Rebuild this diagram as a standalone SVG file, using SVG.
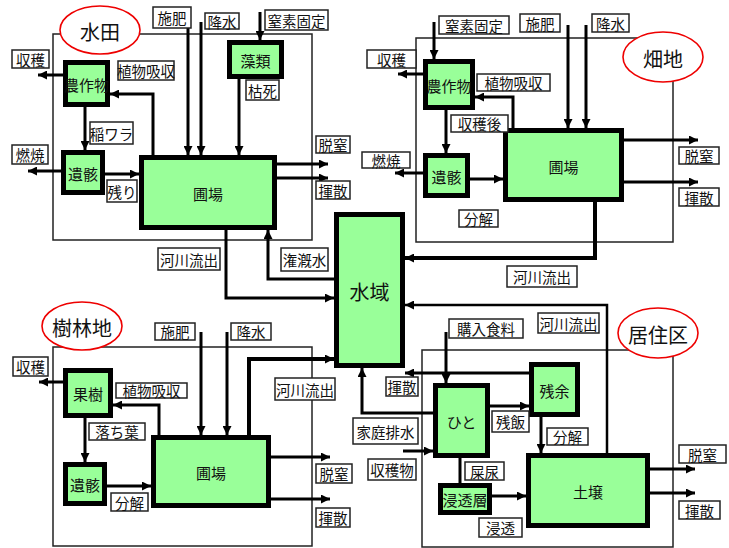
<svg xmlns="http://www.w3.org/2000/svg" width="729" height="548" viewBox="0 0 729 548">
<defs>
<marker id="ah" viewBox="0 0 10 10" refX="10" refY="5" markerWidth="9" markerHeight="9" markerUnits="userSpaceOnUse" orient="auto"><path d="M0,0 L10,5 L0,10 z" fill="#000"/></marker>
<style>
text{font-family:"Noto Sans CJK JP","Noto Sans",sans-serif;text-anchor:middle;dominant-baseline:central;fill:#111}
.area{fill:none;stroke:#222;stroke-width:1.5}
.oval{fill:#fff;stroke:#e00;stroke-width:1.6}
.ot{font-size:20px}
.nd rect{fill:#99ff99;stroke:#000;stroke-width:5}
.nd text{font-size:15px}
.lb rect{fill:#fff;stroke:#222;stroke-width:1.5}
.lb text{font-size:14.5px}
.cn path{fill:none;stroke:#000;stroke-width:3;marker-end:url(#ah)}
.cn path.na{marker-end:none}
.cn path.tk{stroke-width:4}
.cn path.tn{stroke-width:2.5}
</style>
</defs>
<rect width="729" height="548" fill="#fff"/>

<g id="areas">
<rect class="area" x="53" y="34" width="259" height="206"/>
<rect class="area" x="416" y="38" width="257" height="204"/>
<rect class="area" x="53" y="347" width="259" height="199"/>
<rect class="area" x="422" y="350" width="251" height="197"/>
</g>
<g id="area-labels">
<g id="paddy-title"><ellipse class="oval" cx="100" cy="30" rx="40" ry="24"/><text class="ot" x="100" y="31">水田</text></g>
<g id="field-title"><ellipse class="oval" cx="663" cy="57" rx="40" ry="25"/><text class="ot" x="663" y="58">畑地</text></g>
<g id="orchard-title"><ellipse class="oval" cx="82" cy="326" rx="40" ry="24"/><text class="ot" x="82" y="327">樹林地</text></g>
<g id="residential-title"><ellipse class="oval" cx="658" cy="333" rx="40" ry="25"/><text class="ot" x="658" y="334">居住区</text></g>
</g>

<g id="connectors" class="cn">
<!-- paddy -->
<path d="M188,26 V155"/>
<path d="M201,22 V155"/>
<path d="M260,12 V40"/>
<path d="M239,79 V155"/>
<path d="M153,155 V94 H110"/>
<path d="M63,75 H38"/>
<path d="M85,107 V150"/>
<path d="M61,171 H28"/>
<path d="M105,174 H139"/>
<path d="M277,164 H328"/>
<path d="M277,178 H328"/>
<path d="M226,230 V298 H334"/>
<path d="M334,279 H268 V230"/>
<!-- field -->
<path d="M434,22 V59"/>
<path d="M568,25 V128"/>
<path d="M586,25 V128"/>
<path d="M423,74 H398"/>
<path d="M513,128 V97 H475"/>
<path d="M446,110 V153"/>
<path d="M423,173 H395"/>
<path d="M470,179 H503"/>
<path d="M624,140 H698"/>
<path d="M624,182 H698"/>
<path class="tk" d="M595,202 V258 H405"/>
<!-- orchard -->
<path d="M201,332 V435"/>
<path d="M227,332 V435"/>
<path d="M63,382 H39"/>
<path d="M159,435 V405 H113"/>
<path d="M85,418 V462"/>
<path d="M107,486 H151"/>
<path d="M271,457 H330"/>
<path d="M271,499 H330"/>
<path class="tk" d="M249,435 V359 H334"/>
<!-- residential -->
<path d="M446,332 V383"/>
<path d="M529,373 H405"/>
<path d="M433,413 H362 V368"/>
<path d="M403,451 H433"/>
<path d="M490,406 H529"/>
<path d="M541,417 V453"/>
<path class="na" d="M460,458 V483"/>
<path d="M492,496 H526"/>
<path d="M650,469 H695"/>
<path d="M650,493 H695"/>
<path class="tn" d="M607,453 V305 H405"/>
</g>

<g id="n-paddy-crop" class="nd"><rect x="65.5" y="62.5" width="42" height="42"/><text x="86.5" y="84">農作物</text></g>
<g id="n-paddy-residue" class="nd"><rect x="63.5" y="152.5" width="39" height="40"/><text x="83" y="173">遺骸</text></g>
<g id="n-paddy-field" class="nd"><rect x="141.5" y="157.5" width="133" height="70"/><text x="208" y="193">圃場</text></g>
<g id="n-algae" class="nd"><rect x="229.5" y="42.5" width="52" height="34"/><text x="255.5" y="60">藻類</text></g>

<g id="n-field-crop" class="nd"><rect x="425.5" y="61.5" width="47" height="46"/><text x="449" y="85">農作物</text></g>
<g id="n-field-residue" class="nd"><rect x="425.5" y="155.5" width="42" height="40"/><text x="446.5" y="176">遺骸</text></g>
<g id="n-field-field" class="nd"><rect x="505.5" y="130.5" width="116" height="69"/><text x="563.5" y="166">圃場</text></g>

<g id="n-orchard-tree" class="nd"><rect x="65.5" y="370.5" width="45" height="45"/><text x="88" y="393">果樹</text></g>
<g id="n-orchard-residue" class="nd"><rect x="65.5" y="464.5" width="39" height="39"/><text x="85" y="484">遺骸</text></g>
<g id="n-orchard-field" class="nd"><rect x="153.5" y="437.5" width="115" height="68"/><text x="211" y="472">圃場</text></g>

<g id="n-human" class="nd"><rect x="435.5" y="385.5" width="52" height="70"/><text x="461.5" y="421">ひと</text></g>
<g id="n-leftover" class="nd"><rect x="531.5" y="364.5" width="46" height="50"/><text x="554.5" y="390">残余</text></g>
<g id="n-infiltration" class="nd"><rect x="440.5" y="485.5" width="49" height="27"/><text x="465" y="499.5">浸透層</text></g>
<g id="n-soil" class="nd"><rect x="528.5" y="455.5" width="119" height="70"/><text x="588" y="491">土壌</text></g>

<g id="n-water" class="nd"><rect x="336.5" y="214.5" width="66" height="151"/><text x="369.5" y="291" style="font-size:20px">水域</text></g>

<g id="labels" class="lb">
<rect x="153" y="7" width="38" height="21"/><text x="172" y="17.5">施肥</text>
<rect x="205" y="13" width="34" height="16"/><text x="222" y="21">降水</text>
<rect x="265" y="10" width="63" height="20"/><text x="296.5" y="20">窒素固定</text>
<rect x="12" y="50" width="37" height="18"/><text x="30.5" y="59">収穫</text>
<rect x="118" y="61" width="56" height="19"/><text x="146" y="70.5">植物吸収</text>
<rect x="246" y="80" width="33" height="20"/><text x="262.5" y="90">枯死</text>
<rect x="90" y="122" width="43" height="22"/><text x="111.5" y="133">稲ワラ</text>
<rect x="12" y="145" width="36" height="19"/><text x="30" y="154.5">燃焼</text>
<rect x="107" y="180" width="30" height="22"/><text x="122" y="191">残り</text>
<rect x="316" y="136" width="34" height="17"/><text x="333" y="144.5">脱窒</text>
<rect x="316" y="181" width="34" height="18"/><text x="333" y="190">揮散</text>
<rect x="158" y="248" width="62" height="22"/><text x="189" y="259">河川流出</text>
<rect x="281" y="248" width="47" height="23"/><text x="304.5" y="259.5">潅漑水</text>

<rect x="439" y="16" width="70" height="18"/><text x="474" y="25">窒素固定</text>
<rect x="520" y="14" width="40" height="18"/><text x="540" y="23">施肥</text>
<rect x="592" y="14" width="37" height="18"/><text x="610.5" y="23">降水</text>
<rect x="367" y="50" width="49" height="18"/><text x="391.5" y="59">収穫</text>
<rect x="477" y="74" width="73" height="17"/><text x="513.5" y="82.5">植物吸収</text>
<rect x="451" y="115" width="57" height="17"/><text x="479.5" y="123.5">収穫後</text>
<rect x="362" y="152" width="48" height="16"/><text x="386" y="160">燃焼</text>
<rect x="459" y="210" width="39" height="17"/><text x="478.5" y="218.5">分解</text>
<rect x="679" y="147" width="40" height="17"/><text x="699" y="155.5">脱窒</text>
<rect x="679" y="188" width="40" height="18"/><text x="699" y="197">揮散</text>
<rect x="507" y="266" width="70" height="21"/><text x="542" y="276.5">河川流出</text>

<rect x="155" y="323" width="40" height="17"/><text x="175" y="331.5">施肥</text>
<rect x="231" y="323" width="40" height="17"/><text x="251" y="331.5">降水</text>
<rect x="13" y="357" width="35" height="19"/><text x="30.5" y="366.5">収穫</text>
<rect x="116" y="383" width="71" height="15"/><text x="151.5" y="390.5">植物吸収</text>
<rect x="89" y="423" width="56" height="17"/><text x="117" y="431.5">落ち葉</text>
<rect x="111" y="493" width="37" height="18"/><text x="129.5" y="502">分解</text>
<rect x="316" y="464" width="36" height="19"/><text x="334" y="473.5">脱窒</text>
<rect x="316" y="508" width="34" height="19"/><text x="333" y="517.5">揮散</text>
<rect x="275" y="378" width="60" height="22"/><text x="305" y="389">河川流出</text>

<rect x="449" y="319" width="74" height="19"/><text x="486" y="328.5">購入食料</text>
<rect x="538" y="313" width="61" height="20"/><text x="568.5" y="323">河川流出</text>
<rect x="386" y="377" width="32" height="19"/><text x="402" y="386.5">揮散</text>
<rect x="353" y="418" width="65" height="26"/><text x="385.5" y="431">家庭排水</text>
<rect x="368" y="459" width="48" height="21"/><text x="392" y="469.5">収穫物</text>
<rect x="492" y="411" width="37" height="21"/><text x="510.5" y="421.5">残飯</text>
<rect x="547" y="428" width="41" height="17"/><text x="567.5" y="436.5">分解</text>
<rect x="465" y="462" width="39" height="18"/><text x="484.5" y="471">屎尿</text>
<rect x="479" y="518" width="43" height="19"/><text x="500.5" y="527.5">浸透</text>
<rect x="679" y="445" width="47" height="18"/><text x="702.5" y="454">脱窒</text>
<rect x="679" y="501" width="41" height="18"/><text x="699.5" y="510">揮散</text>
</g>
</svg>
